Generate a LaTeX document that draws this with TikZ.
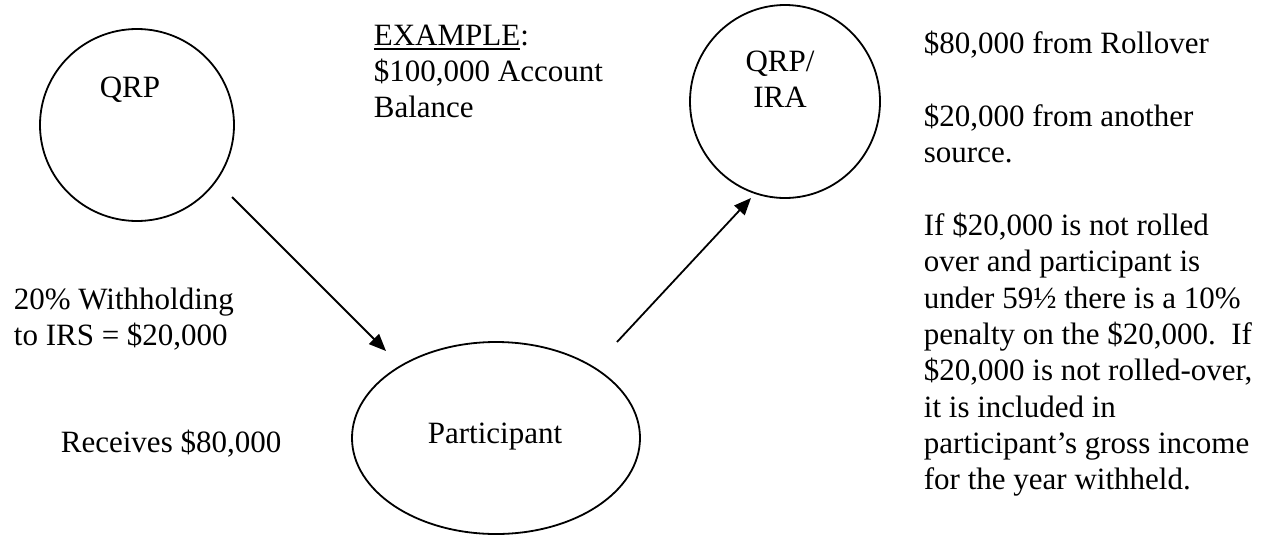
\documentclass[tikz,border=0pt]{standalone}
\usepackage{fontspec}
\setmainfont{Liberation Serif}
\usetikzlibrary{shapes.geometric,arrows.meta}
% underline drawn as a rule under the word
\newcommand\ulword[1]{\setbox0\hbox{#1}\rlap{\rule[-4.5pt]{\wd0}{2pt}}\box0}
\begin{document}
\begin{tikzpicture}[x=1pt,y=-1pt,line width=1.8pt,
  bubble/.style={draw,ellipse,inner sep=0pt},
  txt/.style={anchor=base west,inner sep=0pt,font=\fontsize{31}{36.4}\selectfont},
  ctxt/.style={anchor=base,inner sep=0pt,font=\fontsize{31}{36.4}\selectfont},
  flow/.style={-{Triangle[length=17pt,width=14pt]}}]
\useasboundingbox (0,0) rectangle (1279,536);

% the three parties
\node[bubble,minimum width=194pt,minimum height=192pt] (qrp) at (137,125) {};
\node[bubble,minimum width=190pt,minimum height=193pt] (ira) at (785,101.5) {};
\node[bubble,minimum width=288pt,minimum height=192pt] (part) at (496,438) {};

\node[ctxt] (qrpl) at (130,97) {QRP};
\node[ctxt] (iral1) at (780,71) {QRP/};
\node[ctxt] (iral2) at (780,107) {IRA};
\node[ctxt] (partl) at (495,443) {Participant};

% flows of money
\coordinate (a1s) at (232,197);
\coordinate (a1e) at (386,351);
\coordinate (a2s) at (617,342);
\coordinate (a2e) at (751,198);
\draw[flow] (a1s) -- (a1e);
\draw[flow] (a2s) -- (a2e);

% example heading
\node[txt] (ex1) at (373,45) {\ulword{EXAMPLE}:};
\node[txt] (ex2) at (373,81) {\$100,000 Account};
\node[txt] (ex3) at (373,117) {Balance};

% left side notes
\node[txt] (wh1) at (13,309) {20\% Withholding};
\node[txt] (wh2) at (13,345) {to IRS = \$20,000};
\node[txt] (rcv) at (60,452) {Receives \$80,000};

% right side notes
\node[txt] (r1) at (923,53) {\$80,000 from Rollover};
\node[txt] (r2) at (923,126) {\$20,000 from another};
\node[txt] (r3) at (923,162) {source.};
\node[txt] (r4) at (923,235) {If \$20,000 is not rolled};
\node[txt] (r5) at (923,271) {over and participant is};
\node[txt] (r6) at (923,308) {under 59½ there is a 10\%};
\node[txt] (r7) at (923,344) {penalty on the \$20,000.\ \ If};
\node[txt] (r8) at (923,380) {\$20,000 is not rolled-over,};
\node[txt] (r9) at (923,417) {it is included in};
\node[txt] (r10) at (923,453) {participant’s gross income};
\node[txt] (r11) at (923,489) {for the year withheld.};
\end{tikzpicture}
\end{document}
